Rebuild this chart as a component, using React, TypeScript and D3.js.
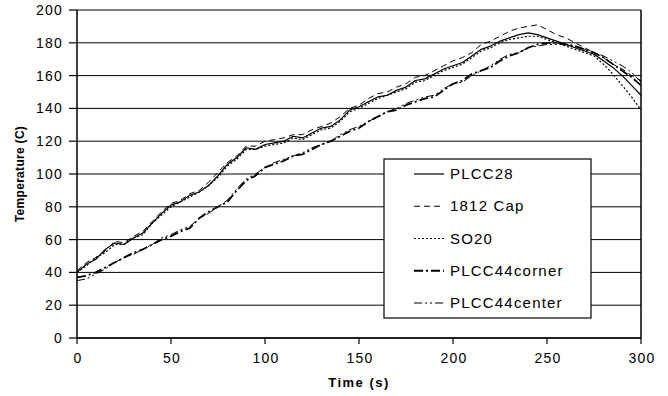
import React from 'react';
import * as d3 from 'd3';

// time axis (s)
const time = [0, 5, 10, 15, 20, 25, 30, 35, 40, 45, 50, 55, 60, 65, 70, 75, 80, 85, 90, 95, 100,
  105, 110, 115, 120, 125, 130, 135, 140, 145, 150, 155, 160, 165, 170, 175, 180, 185, 190, 195, 200,
  205, 210, 215, 220, 225, 230, 235, 240, 245, 250, 255, 260, 265, 270, 275, 280, 285, 290, 295, 300];

// temperatures (C), one per time step
const plcc28 = [40, 45, 48, 54, 58, 57, 61, 64, 70, 76, 81, 83, 87, 89, 93, 99, 106, 110, 116, 115, 118,
  119, 120, 123, 122, 125, 128, 129, 133, 139, 141, 144, 147, 148, 151, 153, 157, 158, 161, 164, 166,
  168, 172, 176, 178, 181, 183, 185, 186, 185, 183, 181, 179, 177, 175, 173, 169, 165, 160, 154, 148];
const cap1812 = [41, 46, 49, 53, 59, 58, 62, 65, 71, 77, 82, 84, 88, 90, 95, 101, 107, 111, 117, 117, 120,
  121, 122, 124, 124, 127, 129, 131, 135, 140, 142, 146, 149, 150, 153, 155, 159, 160, 163, 166, 169,
  171, 174, 179, 181, 184, 187, 189, 190, 191, 188, 185, 183, 180, 177, 174, 171, 167, 164, 160, 157];
const so20 = [40, 44, 49, 52, 57, 57, 61, 63, 70, 75, 80, 83, 86, 89, 93, 98, 105, 109, 115, 115, 117,
  118, 119, 122, 121, 124, 127, 128, 132, 138, 140, 143, 146, 148, 150, 152, 156, 157, 160, 163, 165,
  167, 171, 175, 177, 180, 182, 183, 184, 184, 182, 180, 178, 176, 174, 172, 167, 161, 154, 147, 139];
const plcc44corner = [37, 38, 40, 43, 46, 49, 52, 54, 57, 60, 62, 65, 67, 73, 77, 80, 83, 90, 96, 99, 104,
  106, 108, 111, 112, 115, 118, 120, 123, 126, 128, 132, 135, 138, 139, 142, 144, 146, 147, 151, 155,
  157, 161, 163, 165, 169, 172, 174, 177, 179, 180, 180, 179, 178, 176, 174, 171, 167, 163, 159, 154];
const plcc44center = [35, 36, 39, 42, 46, 49, 51, 54, 57, 61, 63, 66, 68, 73, 76, 80, 84, 91, 97, 100, 104,
  107, 109, 111, 113, 116, 118, 120, 124, 127, 129, 132, 135, 138, 140, 143, 145, 147, 148, 152, 155,
  156, 160, 163, 166, 170, 173, 174, 177, 178, 179, 179, 179, 178, 176, 174, 172, 169, 166, 162, 156];

const seriesNames = ['PLCC28', '1812 Cap', 'SO20', 'PLCC44corner', 'PLCC44center'];
const seriesValues = [plcc28, cap1812, so20, plcc44corner, plcc44center];
const xTicks = [0, 50, 100, 150, 200, 250, 300];
const yTicks = [0, 20, 40, 60, 80, 100, 120, 140, 160, 180, 200];

// line look per series
const dashes = ['', '6,4', '2,2', '9,3,2,3', '8,3,2,3,2,3'];
const widths = [1.2, 1, 1.2, 1.8, 1];

const font = "Arial, 'Liberation Sans', sans-serif";

export default function App() {
  const W = 668, H = 396;
  const left = 77, right = 641, top = 10, bottom = 338;

  const x = d3.scaleLinear().domain([0, 300]).range([left, right]);
  const y = d3.scaleLinear().domain([0, 200]).range([bottom, top]);

  const line = d3.line<number>()
    .x((d, i) => x(time[i]))
    .y(d => y(d));

  // legend box
  const lg = {x: 384, y: 159, w: 207, h: 159};
  const rowY = d3.scalePoint<string>().domain(seriesNames).range([174, 303]);

  return (
    <svg width={W} height={H} style={{position: 'absolute', left: 0, top: 0, background: '#fff'}}>
      {/* gridlines */}
      {yTicks.map(t => (
        <line key={'g' + t} x1={left} x2={right} y1={y(t)} y2={y(t)} stroke="#000" strokeWidth={1} />
      ))}
      {/* series */}
      {seriesValues.map((vals, i) => (
        <path key={seriesNames[i]} d={line(vals) || ''} fill="none" stroke="#000"
          strokeWidth={widths[i]} strokeDasharray={dashes[i] || undefined} strokeLinejoin="round" />
      ))}
      {/* right border */}
      <line x1={right} x2={right} y1={top} y2={bottom} stroke="#000" strokeWidth={1.5} />
      {/* axes */}
      <line x1={left} x2={left} y1={top} y2={bottom} stroke="#000" strokeWidth={1.5} />
      <line x1={left} x2={right} y1={bottom} y2={bottom} stroke="#000" strokeWidth={1.5} />
      {yTicks.map(t => (
        <g key={'y' + t}>
          <line x1={left - 8} x2={left} y1={y(t)} y2={y(t)} stroke="#000" strokeWidth={1.2} />
          <text x={63} y={y(t) + 5} textAnchor="end" fontFamily={font} fontSize={14}
            letterSpacing={1.2}>{t}</text>
        </g>
      ))}
      {xTicks.map(t => (
        <g key={'x' + t}>
          <line x1={x(t)} x2={x(t)} y1={bottom} y2={bottom + 6} stroke="#000" strokeWidth={1.2} />
          <text x={x(t) + 1} y={363} textAnchor="middle" fontFamily={font} fontSize={14}
            letterSpacing={1.2}>{t}</text>
        </g>
      ))}
      <text x={(left + right) / 2} y={387} textAnchor="middle" fontFamily={font} fontSize={13}
        fontWeight="bold" letterSpacing={1.5}>Time (s)</text>
      <text transform={`translate(24,${(top + bottom) / 2}) rotate(-90)`} textAnchor="middle"
        fontFamily={font} fontSize={12} fontWeight="bold" letterSpacing={0.3}>Temperature (C)</text>

      {/* legend */}
      <rect x={lg.x} y={lg.y} width={lg.w} height={lg.h} fill="#fff" stroke="#000" strokeWidth={1.2} />
      {seriesNames.map((n, i) => (
        <g key={'l' + n}>
          <line x1={414} x2={444} y1={rowY(n)!} y2={rowY(n)!} stroke="#000"
            strokeWidth={widths[i]} strokeDasharray={dashes[i] || undefined} />
          <text x={450} y={rowY(n)! + 5} fontFamily={font} fontSize={15} letterSpacing={1.2}>{n}</text>
        </g>
      ))}
    </svg>
  );
}
